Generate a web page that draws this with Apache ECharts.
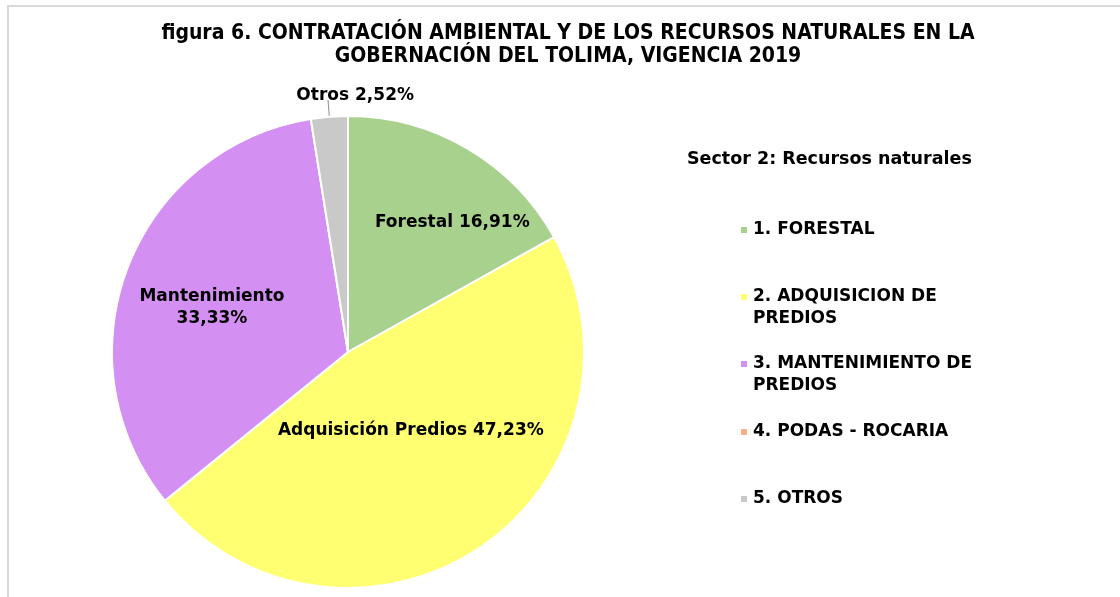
<!DOCTYPE html>
<html>
<head>
<meta charset="utf-8">
<script src="https://cdn.jsdelivr.net/npm/echarts@6/dist/echarts.min.js"></script>
<style>
  html, body { margin: 0; padding: 0; background: #fff; overflow: hidden; }
  #frame { position: absolute; left: 7px; top: 5px; right: 0; bottom: 0;
           border-top: 2px solid #d9d9d9; border-left: 2px solid #d9d9d9; }
  /* chart area starts at the frame edge, like the Excel chart box */
  #chart-container { position: absolute; left: 8px; top: 0; width: 1120px; height: 597px; }
</style>
</head>
<body>
<div id="frame"></div>
<div id="chart-container"></div>
<script>
var categories = ['1. FORESTAL', '2. ADQUISICION DE PREDIOS', '3. MANTENIMIENTO DE PREDIOS', '4. PODAS - ROCARIA', '5. OTROS'];
var shortNames = ['Forestal', 'Adquisición Predios', 'Mantenimiento', 'Podas', 'Otros'];
var percents = [16.91, 47.23, 33.33, 0, 2.52];
var colors = ['#a9d18e', '#ffff71', '#d48ff2', '#f4b183', '#c9c9c9'];

var chartDom = document.getElementById('chart-container');
var myChart = echarts.init(chartDom);
var option;

var font = 'DejaVu Sans';

var pieData = categories.map(function (name, i) {
  var item = { name: name, value: percents[i], itemStyle: { color: colors[i] } };
  if (percents[i] === 0) {
    item.label = { show: false };
    item.labelLine = { show: false };
  }
  if (i === 4) {
    item.label = { position: 'outside' };
    item.labelLine = { show: true, length: 17, length2: 0, lineStyle: { color: '#8c8c8c', width: 1 } };
  }
  return item;
});

// label nudges to mimic the Excel placement
var labelShift = [[43, -25], [-5, -22], [-23, -1], [0, 0], [91, -4]];

// wrap long legend names on a word, with a blank first line so the
// marker sits next to the first line (Excel style)
function wrapName(name) {
  if (name.length <= 20) return name;
  var cut = name.lastIndexOf(' ', 20);
  return '\n' + name.slice(0, cut) + '\n' + name.slice(cut + 1);
}

// one legend per entry, spaced evenly like the original
var legendTops = [230, 297, 364, 432, 499];
var legends = categories.map(function (name, i) {
  var twoLines = name.length > 20;
  return {
    orient: 'vertical',
    left: 731,
    top: legendTops[i] - (twoLines ? 33 : 11),
    padding: 0,
    itemWidth: 8,
    itemHeight: 8,
    icon: 'rect',
    selectedMode: false,
    data: [name],
    formatter: wrapName,
    textStyle: {
      fontFamily: font,
      fontWeight: 'bold',
      fontSize: 17,
      color: '#000',
      lineHeight: 22
    }
  };
});

option = {
  backgroundColor: 'transparent',
  animation: false,
  title: [{
    text: 'figura 6. CONTRATACIÓN AMBIENTAL Y DE LOS RECURSOS NATURALES EN LA\nGOBERNACIÓN DEL TOLIMA, VIGENCIA 2019',
    left: 'center',
    top: 17,
    textStyle: {
      fontFamily: 'DejaVu Sans Condensed',
      fontWeight: 'bold',
      fontSize: 21,
      lineHeight: 23,
      color: '#000'
    }
  }, {
    text: 'Sector 2: Recursos naturales',
    left: 674,
    top: 145,
    textStyle: {
      fontFamily: font,
      fontWeight: 'bold',
      fontSize: 17.5,
      color: '#000'
    }
  }],
  legend: legends,
  series: [{
    type: 'pie',
    center: [340, 352],
    radius: 236,
    startAngle: 90,
    clockwise: true,
    avoidLabelOverlap: false,
    itemStyle: { borderColor: '#fff', borderWidth: 2 },
    label: {
      show: true,
      position: 'inside',
      fontFamily: font,
      fontWeight: 'bold',
      fontSize: 17,
      lineHeight: 22,
      color: '#000',
      formatter: function (p) {
        var v = p.value.toFixed(2).replace('.', ',') + '%';
        var n = shortNames[p.dataIndex];
        return p.dataIndex === 2 ? n + '\n' + v : n + ' ' + v;
      }
    },
    labelLayout: function (params) {
      var s = labelShift[params.dataIndex] || [0, 0];
      return { dx: s[0], dy: s[1] };
    },
    emphasis: { scale: false },
    data: pieData
  }]
};

option && myChart.setOption(option);
</script>
</body>
</html>
